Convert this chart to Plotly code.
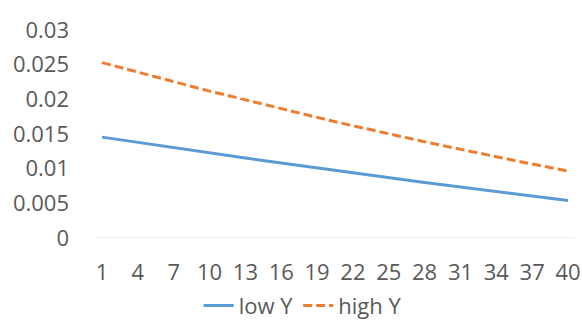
import plotly.graph_objects as go

categories = list(range(1, 41))
tick_labels = [1, 4, 7, 10, 13, 16, 19, 22, 25, 28, 31, 34, 37, 40]

low_y = [0.01455, 0.01429, 0.01404, 0.01378, 0.01353, 0.01328, 0.01302, 0.01277,
         0.01252, 0.01228, 0.01203, 0.01178, 0.01154, 0.01130, 0.01106, 0.01082,
         0.01058, 0.01034, 0.01010, 0.00987, 0.00963, 0.00940, 0.00917, 0.00893,
         0.00870, 0.00848, 0.00825, 0.00802, 0.00780, 0.00757, 0.00735, 0.00713,
         0.00691, 0.00669, 0.00647, 0.00626, 0.00604, 0.00583, 0.00561, 0.00540]

high_y = [0.02530, 0.02483, 0.02436, 0.02390, 0.02344, 0.02298, 0.02253, 0.02208,
          0.02164, 0.02119, 0.02076, 0.02032, 0.01989, 0.01947, 0.01904, 0.01862,
          0.01821, 0.01780, 0.01739, 0.01698, 0.01658, 0.01618, 0.01579, 0.01540,
          0.01501, 0.01463, 0.01425, 0.01388, 0.01351, 0.01314, 0.01277, 0.01241,
          0.01206, 0.01170, 0.01135, 0.01101, 0.01067, 0.01033, 0.00999, 0.00966]

y_ticks = [0, 0.005, 0.01, 0.015, 0.02, 0.025, 0.03]
y_tick_text = ["0", "0.005", "0.01", "0.015", "0.02", "0.025", "0.03"]

fig = go.Figure()
fig.add_trace(go.Scatter(x=categories, y=low_y, mode="lines", name="low Y",
                         line=dict(color="#5B9BD5", width=3)))
fig.add_trace(go.Scatter(x=categories, y=high_y, mode="lines", name="high Y",
                         line=dict(color="#ED7D31", width=3, dash="9px,4px")))

font_family = "Open Sans, Noto Sans, sans-serif"
fig.update_layout(
    width=582, height=320,
    margin=dict(l=96, r=8, t=30, b=82, autoexpand=False),
    paper_bgcolor="white", plot_bgcolor="white",
    font=dict(family=font_family, size=22, color="#595959"),
    showlegend=True,
    legend=dict(orientation="h", xref="container", yref="container",
                x=0.52, xanchor="center", y=0.045, yanchor="middle",
                font=dict(size=22, color="#595959"), itemwidth=30,
                tracegroupgap=0),
    xaxis=dict(range=[0.5, 40.5], tickmode="array", tickvals=tick_labels,
               ticktext=[str(t) for t in tick_labels], showgrid=False,
               zeroline=False, showline=False, ticks="", ticklabelstandoff=19,
               automargin=False, fixedrange=True),
    yaxis=dict(range=[0, 0.03], tickmode="array", tickvals=y_ticks,
               ticktext=y_tick_text,
               showgrid=False, zeroline=False, showline=False, ticks="",
               ticklabelstandoff=26, automargin=False, fixedrange=True),
)
fig.add_shape(type="line", xref="paper", yref="y", x0=0, x1=1, y0=0, y1=0,
              line=dict(color="#D9D9D9", width=1), layer="below")

fig.write_html("out.html", config={"displayModeBar": False},
               post_script="document.body.style.margin='0';document.body.style.overflow='hidden';")
